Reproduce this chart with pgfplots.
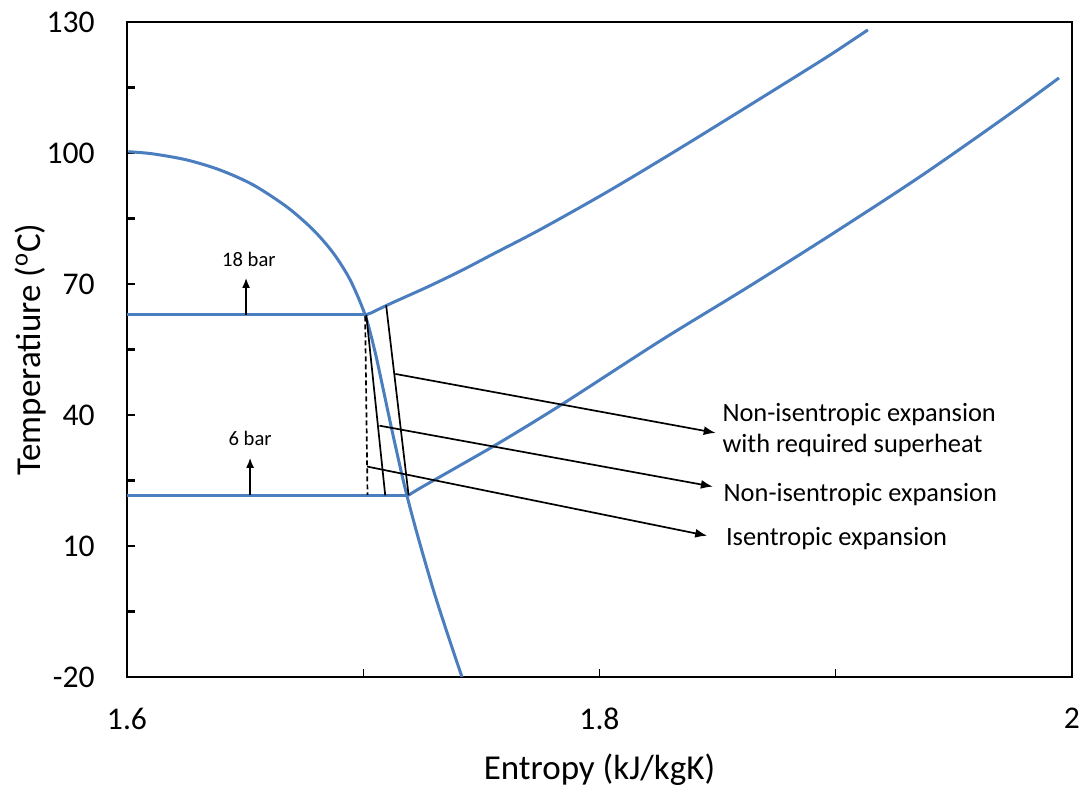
\documentclass[border=0pt]{standalone}
\usepackage{pgfplots}
\pgfplotsset{compat=1.18}
\usepackage{fontspec}
\setmainfont{Carlito}
\usetikzlibrary{arrows.meta}
\definecolor{isoblue}{RGB}{74,126,190}

% saturated vapour line
\pgfplotstableread{
s      T
1.6006 100.3
1.6110 99.8
1.6254 98.4
1.6394 96.1
1.6534 92.7
1.6678 87.6
1.6788 82.4
1.6873 77.1
1.6945 70.9
1.7008 62.9
1.7048 54.9
1.7079 47.3
1.7124 35.9
1.7176 23.5
1.7227 13.0
1.7297 -0.1
1.7365 -11.5
1.7418 -20.0
}\satvap

% 18 bar isobar, superheated part
\pgfplotstableread{
s      T
1.7008 62.9
1.7034 63.4
1.7072 64.4
1.7127 65.8
1.7271 69.3
1.7411 72.95
1.7551 76.9
1.7750 82.5
1.8033 91.1
1.8329 100.7
1.8682 112.5
1.8966 122.1
1.9136 128.2
}\hp

% 6 bar isobar, superheated part
\pgfplotstableread{
s      T
1.7191 21.6
1.7242 23.3
1.7369 27.2
1.7581 33.8
1.7843 42.5
1.8258 57.0
1.8623 69.1
1.8992 81.7
1.9360 94.7
1.9725 108.5
1.9945 117.2
}\lp

\begin{document}
\begin{tikzpicture}
\useasboundingbox (-63.5pt,-57.5pt) rectangle (478pt,338.5pt);
\begin{axis}[
  at={(0,0)}, anchor=south west,
  scale only axis, width=472.5pt, height=327.5pt,
  xmin=1.6, xmax=2.0, ymin=-20, ymax=130,
  axis line style={line width=1.3pt},
  tick align=inside,
  xtick={1.6,1.7,1.8,1.9,2.0},
  xticklabels={1.6,,1.8,,2},
  ytick={-20,-5,10,25,40,55,70,85,100,115,130},
  yticklabels={-20,,10,,40,,70,,100,,130},
  xtick pos=bottom, ytick pos=left,
  major tick length=4pt,
  xtick style={line width=0.6pt, black},
  ytick style={line width=1.2pt, black},
  ticklabel style={font=\fontsize{15.8}{18}\selectfont},
  xticklabel style={anchor=north, inner sep=0pt, yshift=-15.5pt},
  yticklabel style={anchor=east, inner sep=0pt, xshift=-16pt},
  xlabel={Entropy (kJ/kgK)},
  ylabel={Temperatiure (\textsuperscript{o}C)},
  label style={font=\fontsize{17.5}{20}\selectfont},
  xlabel style={at={(axis description cs:0.5,-0.157)}, anchor=base},
  ylabel style={at={(axis description cs:-0.092,0.5)}, anchor=base},
]
% isobars and saturation line
\addplot[isoblue, line width=1.5pt, smooth] table[x=s, y=T] {\satvap};
\addplot[isoblue, line width=1.5pt] coordinates {(1.6,62.9) (1.7008,62.9)};
\addplot[isoblue, line width=1.5pt, smooth] table[x=s, y=T] {\hp};
\addplot[isoblue, line width=1.5pt] coordinates {(1.6,21.6) (1.7191,21.6)};
\addplot[isoblue, line width=1.5pt, smooth] table[x=s, y=T] {\lp};

% expansion paths
\addplot[black, line width=0.85pt, dash pattern=on 2.5pt off 1.5pt] coordinates {(1.7008,62.6) (1.7018,21.7)};
\addplot[black, line width=0.85pt] coordinates {(1.7013,62.9) (1.7093,21.6)};
\addplot[black, line width=0.85pt] coordinates {(1.7097,65.1) (1.7192,21.6)};

% pointers to the labels
\addplot[black, line width=0.85pt, -{Latex[length=6pt,width=4.5pt]}] coordinates {(1.7136,49.4) (1.8492,35.9)};
\addplot[black, line width=0.85pt, -{Latex[length=6pt,width=4.5pt]}] coordinates {(1.7069,37.55) (1.8480,23.6)};
\addplot[black, line width=0.85pt, -{Latex[length=6pt,width=4.5pt]}] coordinates {(1.7016,28.2) (1.8456,12.35)};

% pressure markers
\addplot[black, line width=0.85pt, -{Latex[length=5pt,width=4pt]}] coordinates {(1.6504,62.9) (1.6504,71.4)};
\addplot[black, line width=0.85pt, -{Latex[length=5pt,width=4pt]}] coordinates {(1.6521,21.6) (1.6521,30.2)};

\node[anchor=base, inner sep=0pt, font=\fontsize{10.3}{12}\selectfont] at (axis cs:1.6516,74.1) {18 bar};
\node[anchor=base, inner sep=0pt, font=\fontsize{10.3}{12}\selectfont] at (axis cs:1.6521,33.1) {6 bar};

\node[anchor=base west, inner sep=0pt, font=\fontsize{13.2}{15}\selectfont] at (axis cs:1.8519,38.5) {Non-isentropic expansion};
\node[anchor=base west, inner sep=0pt, font=\fontsize{13.2}{15}\selectfont] at (axis cs:1.8519,31.3) {with required superheat};
\node[anchor=base west, inner sep=0pt, font=\fontsize{13.2}{15}\selectfont] at (axis cs:1.8524,20.3) {Non-isentropic expansion};
\node[anchor=base west, inner sep=0pt, font=\fontsize{13.2}{15}\selectfont] at (axis cs:1.8534,10.0) {Isentropic expansion};
\end{axis}
\end{tikzpicture}
\end{document}
